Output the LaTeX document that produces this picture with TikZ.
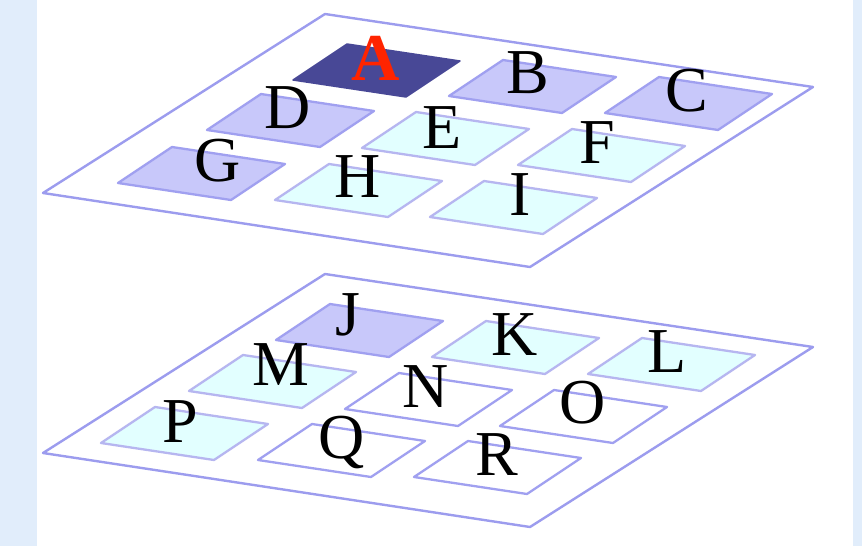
\documentclass[tikz,border=0pt]{standalone}
\usepackage{fontspec}
\setmainfont{Liberation Serif}
\definecolor{stripblue}{HTML}{E1EDFB}
\definecolor{planeedge}{HTML}{9C9CEE}
\definecolor{tiledarkfill}{HTML}{484896}
\definecolor{tilemidfill}{HTML}{C8C8FA}
\definecolor{tilemidedge}{HTML}{A0A0F0}
\definecolor{tilelightfill}{HTML}{E2FFFF}
\definecolor{tilelightedge}{HTML}{B6B6F0}
\definecolor{labelred}{HTML}{FF2400}
% one tile: parallelogram given by its left corner
\newcommand{\tilebox}[3]{%
  \draw[#1] (#2,#3) -- ++(54,-36) -- ++(113,17) -- ++(-54,36) -- cycle;}
\begin{document}
\begin{tikzpicture}[x=1pt,y=-1pt,
  plane/.style={draw=planeedge,line width=2.4pt,fill=white,line join=round},
  tiledark/.style={draw=tiledarkfill,fill=tiledarkfill,line width=1.5pt,line join=round},
  tilemid/.style={draw=tilemidedge,fill=tilemidfill,line width=2.3pt,line join=round},
  tilelight/.style={draw=tilelightedge,fill=tilelightfill,line width=2.3pt,line join=round},
  tileblank/.style={draw=tilemidedge,fill=white,line width=2.3pt,line join=round},
  lbl/.style={anchor=base,inner sep=0pt,font=\fontsize{64}{64}\selectfont},
  lblred/.style={anchor=base,inner sep=0pt,text=labelred,font=\fontsize{67}{67}\selectfont\bfseries}]
\useasboundingbox (0,0) rectangle (862,546);
% side strips
\fill[stripblue] (0,0) rectangle (37,546);
\fill[stripblue] (853,0) rectangle (862,546);

% upper layer
\draw[plane] (43,193) -- (325,14) -- (813,87) -- (530,267) -- cycle;
\tilebox{tiledark}{293}{80}
\tilebox{tilemid}{449}{96}
\tilebox{tilemid}{605}{113}
\tilebox{tilemid}{207}{130}
\tilebox{tilelight}{362}{148}
\tilebox{tilelight}{518}{165}
\tilebox{tilemid}{118}{183}
\tilebox{tilelight}{275}{200}
\tilebox{tilelight}{430}{217}
\node[lblred] (A) at (376,80) {A};
\node[lbl] (B) at (528,93) {B};
\node[lbl] (C) at (687,111) {C};
\node[lbl] (D) at (288,128) {D};
\node[lbl] (E) at (442,148) {E};
\node[lbl] (F) at (597,163) {F};
\node[lbl] (G) at (218,181) {G};
\node[lbl] (H) at (358,197) {H};
\node[lbl] (I) at (520,215) {I};

% lower layer
\draw[plane] (43,453) -- (325,274) -- (813,347) -- (530,527) -- cycle;
\tilebox{tilemid}{276}{340}
\tilebox{tilelight}{432}{357}
\tilebox{tilelight}{588}{374}
\tilebox{tilelight}{189}{391}
\tilebox{tileblank}{345}{409}
\tilebox{tileblank}{500}{426}
\tilebox{tilelight}{101}{443}
\tilebox{tileblank}{258}{460}
\tilebox{tileblank}{414}{477}
\node[lbl] (J) at (348,335) {J};
\node[lbl] (K) at (515,355) {K};
\node[lbl] (L) at (667,372) {L};
\node[lbl] (M) at (281,385) {M};
\node[lbl] (N) at (426,407) {N};
\node[lbl] (O) at (583,423) {O};
\node[lbl] (P) at (180,442) {P};
\node[lbl] (Q) at (342,458) {Q};
\node[lbl] (R) at (497,475) {R};
\end{tikzpicture}
\end{document}
